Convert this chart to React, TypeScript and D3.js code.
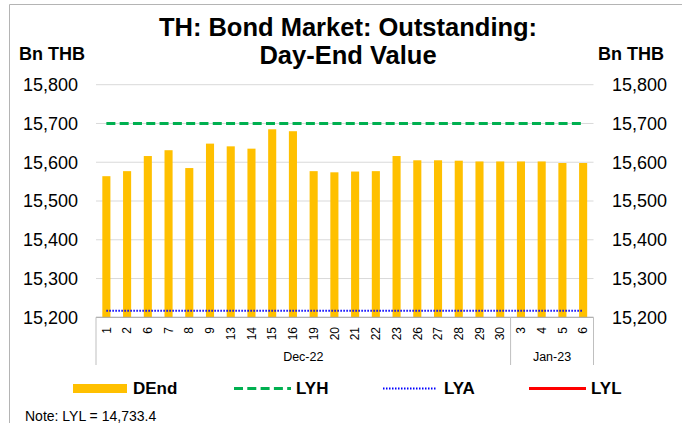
import React from "react";
import * as d3 from "d3";

// categories (trading days) and their month group
const days = ["1", "2", "6", "7", "8", "9", "13", "14", "15", "16", "19", "20", "21", "22", "23", "26", "27", "28", "29", "30", "3", "4", "5", "6"];
const months = [
  "Dec-22", "Dec-22", "Dec-22", "Dec-22", "Dec-22", "Dec-22", "Dec-22", "Dec-22", "Dec-22", "Dec-22",
  "Dec-22", "Dec-22", "Dec-22", "Dec-22", "Dec-22", "Dec-22", "Dec-22", "Dec-22", "Dec-22", "Dec-22",
  "Jan-23", "Jan-23", "Jan-23", "Jan-23",
];

// day-end outstanding value, Bn THB
const dEnd = [15564, 15577, 15616, 15631, 15585, 15648, 15641, 15635, 15685, 15680, 15577, 15574, 15576, 15577, 15616, 15605, 15605, 15604, 15602, 15602, 15602, 15602, 15598, 15598];

// last-year reference levels
const LYH = 15700;
const LYA = 15217;
const LYL = 14733.4;

const yTicks = [15200, 15300, 15400, 15500, 15600, 15700, 15800];

const W = 682;
const H = 423;
const FONT = "'Liberation Sans', Arial, Helvetica, sans-serif";

const App = () => {
  const keys = days.map((d, i) => `${months[i]}|${d}|${i}`);

  const x = d3.scaleBand<string>().domain(keys).range([96, 593.5]).paddingInner(0.61).paddingOuter(0.305);
  const y = d3.scaleLinear().domain([15200, 15800]).range([317.3, 84.7]);
  const fmt = d3.format(",");

  const cx = (k: string) => (x(k) as number) + x.bandwidth() / 2;
  const flat = (v: number) =>
    d3.line<string>().x(k => cx(k)).y(() => y(v))(keys) as string;

  // month groups
  const groups: { label: string; start: number; end: number }[] = [];
  months.forEach((m, i) => {
    const last = groups[groups.length - 1];
    if (last && last.label === m) last.end = i;
    else groups.push({ label: m, start: i, end: i });
  });
  const step = x.step();
  const x0 = 96;
  const axisY = y(15200);
  const axisBottomY = 365;

  return (
    <div style={{ position: "absolute", left: 0, top: 0 }}>
      <svg width={W} height={H} style={{ display: "block", fontFamily: FONT }}>
        <rect x={0} y={0} width={W} height={H} fill="#fff" />
        {/* frame */}
        <path d={`M9.5,${H} V4.5 H${W}`} fill="none" stroke="#b4b4b4" strokeWidth={1} />

        {/* title */}
        <text x={348} y={36} textAnchor="middle" fontSize={25.5} fontWeight="bold" fill="#000">
          TH: Bond Market: Outstanding:
        </text>
        <text x={348} y={64} textAnchor="middle" fontSize={25.5} fontWeight="bold" fill="#000">
          Day-End Value
        </text>
        <text x={19} y={60} fontSize={18} fontWeight="bold" fill="#000">Bn THB</text>
        <text x={598} y={60} fontSize={18} fontWeight="bold" fill="#000">Bn THB</text>

        {/* gridlines + y tick labels */}
        {yTicks.map(t => (
          <g key={t}>
            <line x1={96} x2={593.5} y1={y(t)} y2={y(t)} stroke="#d9d9d9" strokeWidth={1} />
            <text x={78} y={y(t)} dy="0.36em" textAnchor="end" fontSize={18} fill="#000">{fmt(t)}</text>
            <text x={612} y={y(t)} dy="0.36em" textAnchor="start" fontSize={18} fill="#000">{fmt(t)}</text>
          </g>
        ))}

        {/* bars */}
        {keys.map((k, i) => (
          <rect key={k} x={x(k)} y={y(dEnd[i])} width={x.bandwidth()} height={y(15200) - y(dEnd[i])} fill="#FFC000" />
        ))}

        {/* reference lines */}
        <path d={flat(LYH)} fill="none" stroke="#00B050" strokeWidth={3} strokeDasharray="9,4.3" />
        <path d={flat(LYA)} fill="none" stroke="#0000FF" strokeWidth={2} strokeDasharray="1.5,1.5" />

        {/* category axis */}
        <line x1={x0} x2={593.5} y1={axisY} y2={axisY} stroke="#a6a6a6" strokeWidth={1} />
        {keys.map((k, i) => (
          <text key={k} transform={`translate(${cx(k)},327) rotate(-90)`} textAnchor="end" dy="0.35em" fontSize={12} fill="#000">
            {days[i]}
          </text>
        ))}
        {groups.map(g => {
          const gx0 = x0 + g.start * step;
          const gx1 = x0 + (g.end + 1) * step;
          return (
            <g key={g.label}>
              <line x1={gx1} x2={gx1} y1={axisY} y2={axisBottomY} stroke="#bfbfbf" strokeWidth={1} />
              {g.start === 0 && (
                <line x1={gx0} x2={gx0} y1={axisY} y2={axisBottomY} stroke="#bfbfbf" strokeWidth={1} />
              )}
              <text x={(gx0 + gx1) / 2} y={360.5} textAnchor="middle" fontSize={12.5} fill="#000">{g.label}</text>
            </g>
          );
        })}

        {/* legend */}
        <rect x={73} y={384} width={54} height={9} fill="#FFC000" />
        <text x={133} y={394} fontSize={17} fontWeight="bold" fill="#000">DEnd</text>
        <line x1={234} x2={291} y1={388.5} y2={388.5} stroke="#00B050" strokeWidth={3} strokeDasharray="9,4.3" />
        <text x={296} y={394} fontSize={17} fontWeight="bold" fill="#000">LYH</text>
        <line x1={383} x2={436} y1={388.5} y2={388.5} stroke="#0000FF" strokeWidth={2} strokeDasharray="1.5,1.5" />
        <text x={444} y={394} fontSize={17} fontWeight="bold" fill="#000">LYA</text>
        <line x1={529} x2={586} y1={388.5} y2={388.5} stroke="#FF0000" strokeWidth={3} />
        <text x={591} y={394} fontSize={17} fontWeight="bold" fill="#000">LYL</text>

        <text x={25} y={421} fontSize={14} fill="#000">Note: LYL = {d3.format(",.1f")(LYL)}</text>
      </svg>
    </div>
  );
};

export default App;
